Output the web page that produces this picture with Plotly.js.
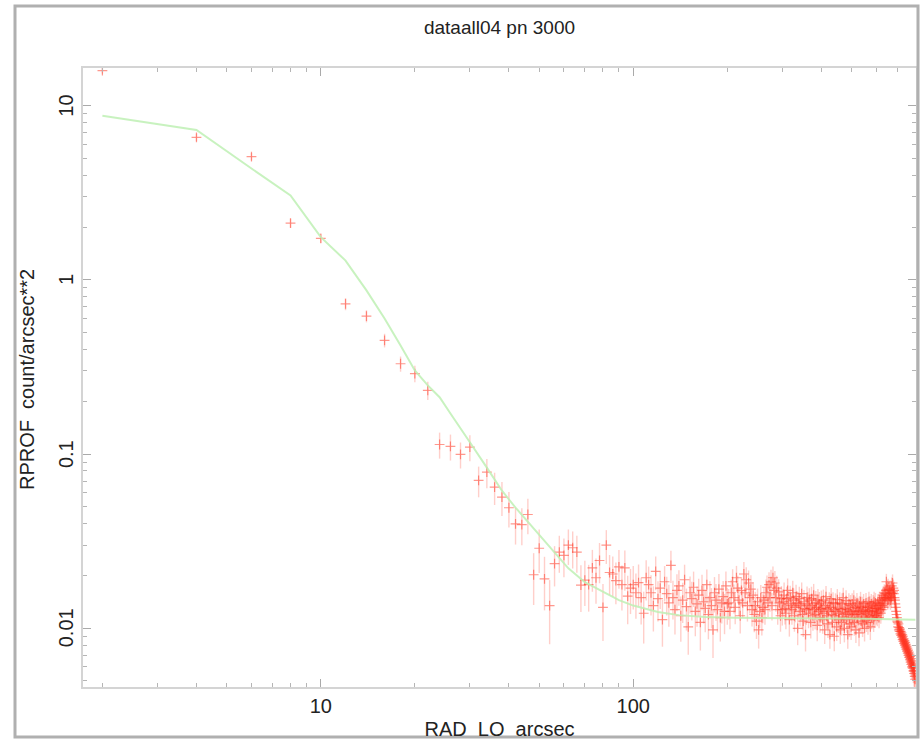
<!DOCTYPE html>
<html><head><meta charset="utf-8">
<script src="https://cdn.plot.ly/plotly-3.0.1.min.js"></script>
<style>html,body{margin:0;padding:0;background:#fff}#chart{width:924px;height:741px}</style>
</head><body><div id="chart"></div>
<script>
// Radial bins (RAD_LO, arcsec)
const rad = [
2,4,6,8,10,12,14,16,18,20,22,24,26,28,30,32,34,36,38,40,42,44,46,48,50,
52,54,56,58,60,62,64,66,68,70,72,74,76,78,80,82,84,86,88,90,92,94,96,98,100,
102,104,106,108,110,112,114,116,118,120,122,124,126,128,130,132,134,136,138,140,142,144,146,148,150,
152,154,156,158,160,162,164,166,168,170,172,174,176,178,180,182,184,186,188,190,192,194,196,198,200,
202,204,206,208,210,212,214,216,218,220,222,224,226,228,230,232,234,236,238,240,242,244,246,248,250,
252,254,256,258,260,262,264,266,268,270,272,274,276,278,280,282,284,286,288,290,292,294,296,298,300,
302,304,306,308,310,312,314,316,318,320,322,324,326,328,330,332,334,336,338,340,342,344,346,348,350,
352,354,356,358,360,362,364,366,368,370,372,374,376,378,380,382,384,386,388,390,392,394,396,398,400,
402,404,406,408,410,412,414,416,418,420,422,424,426,428,430,432,434,436,438,440,442,444,446,448,450,
452,454,456,458,460,462,464,466,468,470,472,474,476,478,480,482,484,486,488,490,492,494,496,498,500,
502,504,506,508,510,512,514,516,518,520,522,524,526,528,530,532,534,536,538,540,542,544,546,548,550,
552,554,556,558,560,562,564,566,568,570,572,574,576,578,580,582,584,586,588,590,592,594,596,598,600,
602,604,606,608,610,612,614,616,618,620,622,624,626,628,630,632,634,636,638,640,642,644,646,648,650,
652,654,656,658,660,662,664,666,668,670,672,674,676,678,680,682,684,686,688,690,692,694,696,698,700,
702,704,706,708,710,712,714,716,718,720,722,724,726,728,730,732,734,736,738,740,742,744,746,748,750,
752,754,756,758,760,762,764,766,768,770,772,774,776,778,780,782,784,786,788,790,792,794,796,798
];
// Surface brightness (RPROF, count/arcsec**2)
const rprof = [
15.9,6.58,5.10,2.12,1.73,0.728,0.62,0.45,0.33,0.29,
0.232,0.1135,0.1106,0.0996,0.1097,0.0706,0.0787,0.0646,0.0566,0.0492,
0.0398,0.0394,0.0450,0.0203,0.0288,0.0192,0.0135,0.0235,0.0274,0.0262,
0.0300,0.0290,0.0274,0.0177,0.0189,0.0178,0.0222,0.0195,0.0245,0.0132,
0.0300,0.0209,0.0205,0.0188,0.0225,0.0178,0.0222,0.0153,0.0170,0.0178,
0.0160,0.0183,0.0150,0.0122,0.0195,0.0178,
0.0160,0.0135,0.0212,0.0148,0.0170,0.0112,0.0185,0.0158,0.0140,0.0230,
0.0150,0.0128,0.0165,0.0175,0.0118,0.0145,0.0190,0.0133,0.0102,0.0160,
0.0148,0.0172,0.0125,0.0138,0.0155,0.0108,0.0165,0.0142,0.0130,0.0178,
0.0120,0.0150,0.0135,0.0098,0.0160,0.0145,0.0128,0.0168,0.0115,0.0140,
0.0152,0.0125,0.0175,0.0138,
0.0140,0.0125,0.0160,0.0185,0.0150,0.0132,0.0195,0.0170,0.0145,0.0118,
0.0165,0.0140,0.0205,0.0160,0.0190,0.0135,0.0182,0.0150,0.0168,0.0128,
0.0155,0.0120,0.0135,0.0110,0.0142,0.0098,0.0125,0.0150,0.0115,0.0132,
0.0145,0.0128,0.0160,0.0172,0.0140,0.0178,0.0150,0.0185,0.0135,0.0195,
0.0165,0.0182,0.0150,0.0170,0.0128,0.0162,0.0140,0.0118,0.0148,0.0128,
0.0142,0.0155,0.0130,0.0122,0.0148,0.0165,0.0138,0.0112,0.0150,0.0135,
0.0128,0.0160,0.0145,0.0118,0.0132,0.0152,0.0140,0.0100,0.0138,0.0148,
0.0125,0.0135,0.0158,0.0120,0.0110,0.0142,0.0130,0.0092,0.0128,0.0150,
0.0138,0.0122,0.0145,0.0130,0.0108,0.0148,0.0135,0.0118,0.0155,0.0128,
0.0120,0.0140,0.0132,0.0104,0.0145,0.0125,0.0138,0.0115,0.0130,0.0142,
0.0128,0.0112,0.0145,0.0122,0.0098,0.0135,0.0152,0.0118,0.0130,0.0106,
0.0125,0.0140,0.0092,0.0132,0.0148,0.0120,0.0108,0.0140,0.0128,0.0090,
0.0118,0.0138,0.0125,0.0102,0.0146,0.0130,0.0112,0.0122,0.0140,0.0098,
0.0128,0.0108,0.0138,0.0120,0.0150,0.0116,0.0100,0.0130,0.0124,0.0144,
0.0112,0.0128,0.0092,0.0122,0.0138,0.0106,0.0125,0.0135,0.0102,0.0120,
0.0138,0.0115,0.0126,0.0145,0.0108,0.0120,0.0132,0.0098,0.0124,0.0140,
0.0114,0.0130,0.0122,0.0094,0.0134,0.0125,0.0142,0.0110,0.0120,0.0132,
0.0106,0.0126,0.0138,0.0116,0.0100,0.0128,0.0122,0.0140,0.0112,0.0124,
0.0132,0.0108,0.0126,0.0142,0.0118,0.0134,0.0102,0.0125,0.0138,0.0116,
0.0130,0.0120,0.0136,0.0112,0.0142,0.0126,0.0118,0.0140,0.0130,0.0122,
0.0130,0.0118,0.0140,0.0124,0.0135,0.0115,0.0145,0.0128,0.0138,0.0122,
0.0145,0.0128,0.0150,0.0135,0.0155,0.0132,0.0148,0.0160,0.0138,0.0158,
0.0150,0.0165,0.0185,0.0150,0.0168,0.0145,0.0172,0.0155,0.0148,0.0165,
0.0152,0.0168,0.0145,0.0160,0.0150,0.0175,0.0158,0.0182,0.0162,0.0170,
0.0158,0.0165,0.0150,0.0145,0.0138,0.0132,0.0125,0.0120,0.0115,0.0110,
0.0108,0.0102,0.0106,0.0098,0.0101,0.0096,0.0099,0.0093,0.0096,0.0091,
0.0094,0.0089,0.0092,0.0086,0.0090,0.0084,0.0087,0.0082,0.0085,0.0080,
0.0083,0.0078,0.0081,0.0076,0.0079,0.0074,0.0077,0.0072,0.0075,0.0070,
0.0073,0.0068,0.0071,0.0066,0.0069,0.0064,0.0067,0.0062,0.0065,0.0060,
0.0063,0.0059,0.0061,0.0057,0.0060,0.0055,0.0057,0.0053,0.0051
];
// Relative 1-sigma error of each RPROF value, percent
const errPct = [
4,5,5,6,6,8,8,9,10,11,
12,17,17,17,17,20,19,21,22,23,
24,24,23,33,28,34,40,26,24,25,
23,24,24,30,29,30,27,29,26,36,
22,26,26,27,25,29,26,31,29,28,
29,27,30,33,26,27,
26,29,22,26,24,30,23,25,27,21,
25,28,24,23,29,26,22,27,31,24,
25,23,28,26,24,31,23,25,27,22,
28,24,26,31,23,24,26,22,27,24,
23,26,21,24,
20,21,19,18,19,20,17,18,19,21,
19,18,17,17,18,19,18,19,20,20,
19,21,20,21,19,22,20,18,21,19,
18,18,19,17,17,18,17,17,18,16,
17,17,17,18,18,18,19,19,18,19,
18,18,19,19,17,17,18,20,17,18,
18,17,17,19,18,17,17,20,17,17,
18,18,16,18,19,17,18,20,18,16,
17,18,17,18,19,17,17,18,16,17,
18,17,17,19,16,17,17,18,17,16,
16,17,15,16,17,15,15,16,16,17,
16,15,17,15,15,16,17,15,16,18,
16,15,16,17,15,15,16,16,15,17,
15,16,15,16,14,16,17,15,15,15,
16,15,17,15,15,16,15,15,16,15,
15,16,15,14,16,15,15,16,15,14,
15,15,15,16,14,15,14,15,15,15,
16,15,14,15,16,15,15,14,15,15,
14,15,15,14,15,14,16,15,14,15,
14,15,14,15,14,14,15,14,14,14,
13,13,12,13,13,13,12,13,12,13,
12,13,12,12,12,12,12,12,12,12,
12,12,11,12,12,12,12,12,12,12,
12,12,12,12,12,12,12,12,12,12,
12,12,12,13,13,13,13,14,14,14,
12,12,12,12,12,12,12,13,12,13,
13,13,13,13,13,13,13,13,13,13,
13,14,13,14,13,14,14,14,14,14,
14,14,14,15,14,15,14,15,15,15,
15,15,15,15,15,16,15,16,16
];
// Model curve
const modelRad = [2,4,6,8,10,12,14,16,18,20,22,24,26,28,30,34,38,42,46,50,56,62,70,80,90,100,120,140,170,210,300,400,500,600,700,800];
const modelVal = [8.76,7.25,4.36,3.05,1.76,1.29,0.87,0.60,0.42,0.302,0.248,0.212,0.171,0.141,0.117,0.0836,0.0616,0.0493,0.0408,0.0343,0.0270,0.0221,0.0184,0.0162,0.0145,0.0135,0.0124,0.0119,0.0116,0.0115,0.0114,0.0114,0.0114,0.0113,0.0113,0.0112];

const xTickVals = [10, 100];
const xTickText = ['10', '100'];
const xMinorVals = [2,3,4,5,6,7,8,9,20,30,40,50,60,70,80,90,200,300,400,500,600,700,800];
const yTickVals = [0.01, 0.1, 1, 10];
const yTickText = ['0.01', '0.1', '1', '10'];
const yMinorVals = [0.005,0.006,0.007,0.008,0.009,0.02,0.03,0.04,0.05,0.06,0.07,0.08,0.09,0.2,0.3,0.4,0.5,0.6,0.7,0.8,0.9,2,3,4,5,6,7,8,9];

const errAbs = rprof.map((v, i) => v * errPct[i] / 100);

const FONT = 'Liberation Sans, Arial, Helvetica, sans-serif';
const TXT = '#222';

const data = [
  {
    type: 'scatter', mode: 'markers', x: rad, y: rprof,
    marker: {symbol: 'cross-thin', size: 7, color: 'rgba(255,50,30,0.5)', line: {color: 'rgba(255,50,30,0.5)', width: 1.2}},
    error_y: {type: 'data', array: errAbs, visible: true, color: 'rgba(255,70,50,0.26)', thickness: 1.4, width: 0},
    hoverinfo: 'x+y', showlegend: false
  },
  {
    type: 'scatter', mode: 'lines', x: modelRad, y: modelVal,
    line: {color: 'rgba(190,240,180,0.85)', width: 2},
    hoverinfo: 'x+y', showlegend: false
  }
];

const axisCommon = {
  type: 'log', showgrid: false, zeroline: false,
  showline: true, linecolor: '#d4d4d4', linewidth: 2, mirror: 'ticks',
  ticks: 'inside', ticklen: 8, tickwidth: 1, tickcolor: '#aaaaaa',
  tickmode: 'array',
  tickfont: {family: FONT, size: 20, color: TXT}
};

// Rotated y tick labels (placed on the log y axis, so positions are log10 of the tick values)
const yLabelAnnotations = yTickVals.map((v, i) => ({
  xref: 'paper', yref: 'y', x: (66 - 83) / 833, y: Math.log10(v),
  text: yTickText[i], showarrow: false, textangle: -90,
  xanchor: 'center', yanchor: 'middle',
  font: {family: FONT, size: 20, color: TXT}
}));

const layout = {
  width: 924, height: 741,
  margin: {l: 83, r: 8, t: 68, b: 54},
  paper_bgcolor: '#ffffff', plot_bgcolor: '#ffffff',
  title: {text: 'dataall04 pn 3000', font: {family: FONT, size: 19, color: TXT},
          x: 0.5, xref: 'paper', y: 1 - 27 / 741, yref: 'container', yanchor: 'middle'},
  xaxis: Object.assign({}, axisCommon, {
    range: [0.2389, 2.905], tickvals: xTickVals, ticktext: xTickText,
    minor: {tickvals: xMinorVals, ticks: 'inside', ticklen: 4, tickcolor: '#b5b5b5', showgrid: false},
    title: {text: 'RAD  LO  arcsec', font: {family: FONT, size: 20, color: TXT}, standoff: 6}
  }),
  yaxis: Object.assign({}, axisCommon, {
    range: [-2.337, 1.2163], tickvals: yTickVals, ticktext: yTickText, showticklabels: false,
    minor: {tickvals: yMinorVals, ticks: 'inside', ticklen: 4, tickcolor: '#b5b5b5', showgrid: false}
  }),
  annotations: yLabelAnnotations.concat([{
    xref: 'paper', yref: 'paper', x: (27 - 83) / 833, y: (687 - 380) / 619,
    text: 'RPROF  count/arcsec**2', showarrow: false, textangle: -90,
    xanchor: 'center', yanchor: 'middle',
    font: {family: FONT, size: 20, color: TXT}
  }]),
  shapes: [{
    type: 'rect', xref: 'paper', yref: 'paper', layer: 'above',
    x0: (15 - 83) / 833, x1: (918 - 83) / 833, y0: (687 - 737) / 619, y1: (687 - 6) / 619,
    line: {color: '#b0b0b0', width: 3}, fillcolor: 'rgba(0,0,0,0)'
  }]
};

Plotly.newPlot('chart', data, layout, {displayModeBar: false, responsive: false});
</script>
</body></html>
